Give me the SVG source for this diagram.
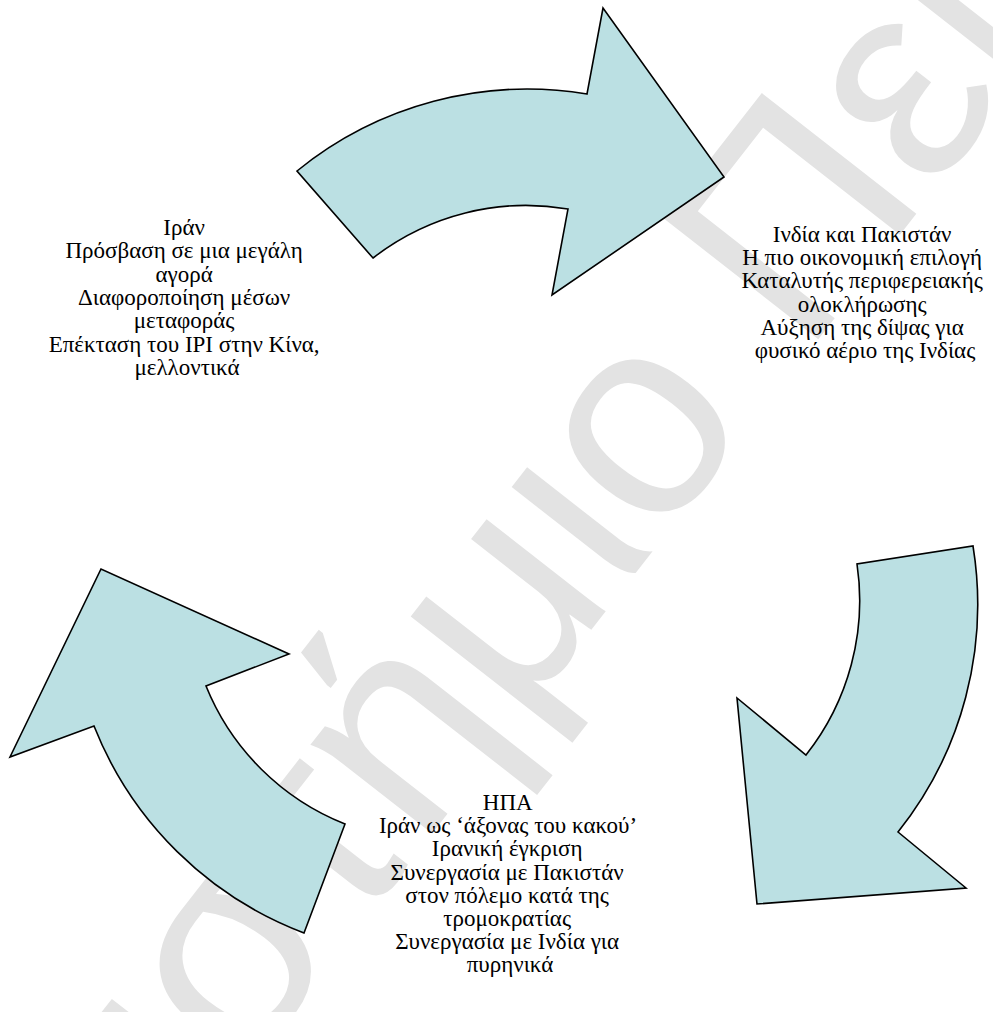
<svg xmlns="http://www.w3.org/2000/svg" width="993" height="1012" viewBox="0 0 993 1012">
<style>
.arrow{fill:#BBE0E3;stroke:#000;stroke-width:1.6;stroke-linejoin:miter}
.lbl{font-family:"Liberation Serif","Times New Roman",serif;font-size:23px;fill:#000;text-anchor:middle}
.wm{font-family:"Liberation Sans",Arial,sans-serif;font-size:285px;fill:#e3e3e3}
</style>
<rect width="993" height="1012" fill="#fff"/>
<g id="watermark">
<text class="wm" transform="translate(688,506) rotate(-52)" x="-1624" y="0">Πανεπιστήμιο Πειραιώς</text>
</g>
<g id="connectors">
<path id="arrow-top" class="arrow" d="M297,171 A365,365 0 0 1 587,94 L603,8 L724,177 L552,295 L568,209 A249,249 0 0 0 373,258 Z"/>
<path id="arrow-right" class="arrow" d="M973,546 A365,365 0 0 1 898,832 L966,888 L757,904 L737,698 L806,755 A249,249 0 0 0 857,564 Z"/>
<path id="arrow-left" class="arrow" d="M304,933 A365,365 0 0 1 94,726 L10,757 L101,569 L289,654 L206,686 A249,249 0 0 0 345,824 Z"/>
</g>
<g id="node-iran">
<text class="lbl">
<tspan x="187" y="235">Ιράν</tspan>
<tspan x="187" y="258.3">Πρόσβαση σε μια μεγάλη</tspan>
<tspan x="187" y="281.6">αγορά</tspan>
<tspan x="187" y="304.9">Διαφοροποίηση μέσων</tspan>
<tspan x="187" y="328.2">μεταφοράς</tspan>
<tspan x="187" y="351.5">Επέκταση του ΙΡΙ στην Κίνα,</tspan>
<tspan x="187" y="374.8">μελλοντικά</tspan>
</text>
</g>
<g id="node-india-pakistan">
<text class="lbl">
<tspan x="865" y="242">Ινδία και Πακιστάν</tspan>
<tspan x="865" y="265.2">Η πιο οικονομική επιλογή</tspan>
<tspan x="865" y="288.4">Καταλυτής περιφερειακής</tspan>
<tspan x="865" y="311.6">ολοκλήρωσης</tspan>
<tspan x="865" y="334.8">Αύξηση της δίψας για</tspan>
<tspan x="865" y="358">φυσικό αέριο της Ινδίας</tspan>
</text>
</g>
<g id="node-usa">
<text class="lbl">
<tspan x="510" y="810">ΗΠΑ</tspan>
<tspan x="510" y="833.2">Ιράν ως ‘άξονας του κακού’</tspan>
<tspan x="510" y="856.4">Ιρανική έγκριση</tspan>
<tspan x="510" y="879.6">Συνεργασία με Πακιστάν</tspan>
<tspan x="510" y="902.8">στον πόλεμο κατά της</tspan>
<tspan x="510" y="926">τρομοκρατίας</tspan>
<tspan x="510" y="949.2">Συνεργασία με Ινδία για</tspan>
<tspan x="510" y="972.4">πυρηνικά</tspan>
</text>
</g>
</svg>
